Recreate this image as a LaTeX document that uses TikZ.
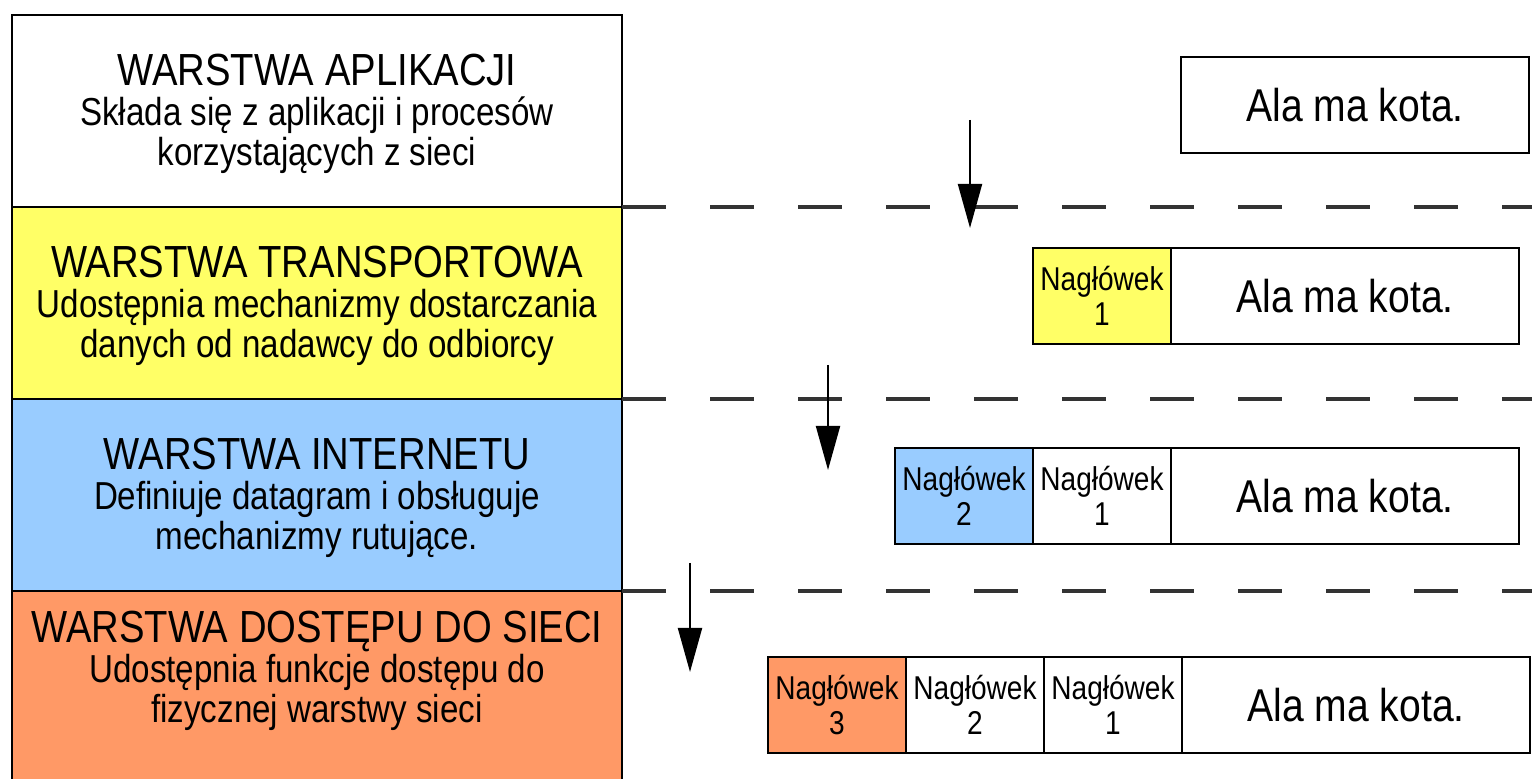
\documentclass[tikz,border=0pt]{standalone}
\usepackage{fontspec}
\setmainfont{Liberation Sans}[FakeStretch=0.85]
\usetikzlibrary{positioning,arrows.meta}
\definecolor{zolty}{HTML}{FFFF66}
\definecolor{niebieski}{HTML}{99CCFF}
\definecolor{pomaranczowy}{HTML}{FF9966}
\newcommand{\tytul}[1]{{\fontsize{22.5}{22.5}\selectfont #1}}
\tikzset{
	warstwa/.style={draw,line width=1pt,outer sep=0pt,minimum width=305pt,minimum height=96pt,inner sep=0pt,anchor=north west},
	opis/.style={align=center,font=\fontsize{19.5}{20}\selectfont},
	naglowek/.style={draw,line width=1pt,outer sep=0pt,minimum width=69pt,minimum height=48pt,inner sep=0pt,align=center,font=\fontsize{16.5}{17.5}\selectfont},
	dane/.style={draw,line width=1pt,outer sep=0pt,minimum width=174pt,minimum height=48pt,inner sep=0pt,font=\fontsize{23}{23}\selectfont},
	granica/.style={line width=1.6pt,draw=black!80,dash pattern=on 22pt off 22pt},
	strzalka/.style={line width=1pt,-{Triangle[length=22pt,width=12pt]}}
}
\begin{document}
\begin{tikzpicture}[x=0.5pt,y=-0.5pt]
	\useasboundingbox (0,0) rectangle (1532,779);
	\path (970,120) coordinate (S1) (970,228) coordinate (K1)
	(828,365) coordinate (S2) (828,470) coordinate (K2)
	(690,563) coordinate (S3) (690,672) coordinate (K3)
	(1532,0) coordinate (P);
	% warstwy
	\node[warstwa] (aplikacji) at (12,15) {};
	\node[warstwa,fill=zolty,below=0pt of aplikacji] (transport) {};
	\node[warstwa,fill=niebieski,below=0pt of transport] (internet) {};
	\node[warstwa,fill=pomaranczowy,below=0pt of internet] (dostep) {};
	\node[opis] (tApl) at ([yshift=-1.5pt]aplikacji.center) {\tytul{WARSTWA APLIKACJI}\\Składa się z aplikacji i procesów\\korzystających z sieci};
	\node[opis] (tTra) at ([yshift=-1.5pt]transport.center) {\tytul{WARSTWA TRANSPORTOWA}\\Udostępnia mechanizmy dostarczania\\danych od nadawcy do odbiorcy};
	\node[opis] (tInt) at ([yshift=-1.5pt]internet.center) {\tytul{WARSTWA INTERNETU}\\Definiuje datagram i obsługuje\\mechanizmy rutujące.};
	\node[opis] (tDos) at ([yshift=-40pt]dostep.north) {\tytul{WARSTWA DOSTĘPU DO SIECI}\\Udostępnia funkcje dostępu do\\fizycznej warstwy sieci};
	\foreach \w in {aplikacji,transport,internet}{
	\draw[granica] (\w.south east) -- (\w.south east -| P);
	}
	% pakiety
	\node[dane] (d1) at (1355,105) {Ala ma kota.};
	\node[dane] (d2) at (1345,296) {Ala ma kota.};
	\node[naglowek,fill=zolty,left=0pt of d2] (n21) {Nagłówek\\1};
	\node[dane] (d3) at (1345,496) {Ala ma kota.};
	\node[naglowek,left=0pt of d3] (n31) {Nagłówek\\1};
	\node[naglowek,fill=niebieski,left=0pt of n31] (n32) {Nagłówek\\2};
	\node[dane] (d4) at (1356,705) {Ala ma kota.};
	\node[naglowek,left=0pt of d4] (n41) {Nagłówek\\1};
	\node[naglowek,left=0pt of n41] (n42) {Nagłówek\\2};
	\node[naglowek,fill=pomaranczowy,left=0pt of n42] (n43) {Nagłówek\\3};
	\foreach \s/\k in {S1/K1,S2/K2,S3/K3}{
	\draw[strzalka] (\s) -- (\k);
	}
\end{tikzpicture}
\end{document}
